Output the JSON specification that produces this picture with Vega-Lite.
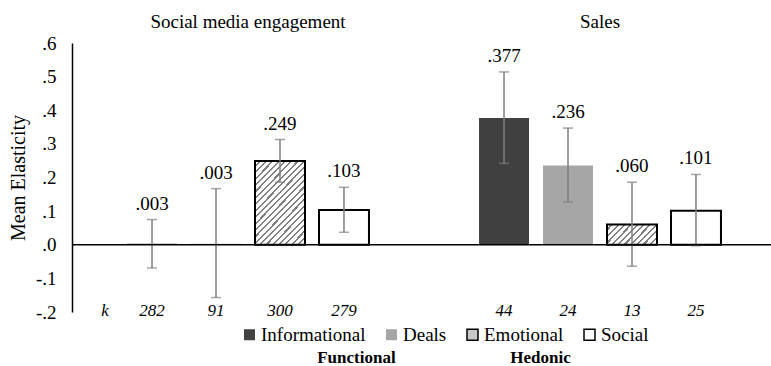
{
  "$schema": "https://vega.github.io/schema/vega-lite/v6.json",
  "width": 699,
  "height": 269,
  "autosize": {"type": "none"},
  "padding": {"left": 72, "top": 43, "right": 0, "bottom": 54},
  "config": {
    "view": {"stroke": null},
    "font": "Liberation Serif",
    "axis": {"labelFont": "Liberation Serif", "titleFont": "Liberation Serif", "labelColor": "#000000", "titleColor": "#000000"},
    "axisX": {"domain": false, "ticks": false, "grid": false, "labelAngle": 0, "labelFontSize": 19, "labelPadding": 12, "labelLimit": 400},
    "axisY": {"grid": false, "ticks": false, "domain": true, "domainColor": "#000000", "domainWidth": 1.5, "labelFontSize": 19, "labelPadding": 16, "titleFontSize": 20, "titleFontWeight": "normal", "titlePadding": 7},
    "legend": {"titleOrient": "bottom", "titleAnchor": "middle", "titleLimit": 1000, "titleFont": "Liberation Serif", "titleFontSize": 17, "titleFontWeight": "bold", "titleColor": "#000000", "titlePadding": 5,
      "symbolType": "square", "symbolSize": 121, "symbolStrokeWidth": 1.5, "symbolOpacity": 1,
      "labelFont": "Liberation Serif", "labelFontSize": 19, "labelColor": "#000000", "labelOffset": 2, "columnPadding": 16, "labelLimit": 300}
  },
  "data": {
    "values": [
      {"group": "Social media engagement", "type": "Informational", "mean": 0.003, "lo": -0.069, "hi": 0.075, "k": "282", "lbl": ".003"},
      {"group": "Social media engagement", "type": "Deals", "mean": 0.003, "lo": -0.157, "hi": 0.167, "k": "91", "lbl": ".003"},
      {"group": "Social media engagement", "type": "Emotional", "mean": 0.249, "lo": 0.186, "hi": 0.313, "k": "300", "lbl": ".249"},
      {"group": "Social media engagement", "type": "Social", "mean": 0.103, "lo": 0.037, "hi": 0.171, "k": "279", "lbl": ".103"},
      {"group": "Sales", "type": "Informational", "mean": 0.377, "lo": 0.242, "hi": 0.514, "k": "44", "lbl": ".377"},
      {"group": "Sales", "type": "Deals", "mean": 0.236, "lo": 0.127, "hi": 0.347, "k": "24", "lbl": ".236"},
      {"group": "Sales", "type": "Emotional", "mean": 0.06, "lo": -0.064, "hi": 0.186, "k": "13", "lbl": ".060"},
      {"group": "Sales", "type": "Social", "mean": 0.101, "lo": -0.003, "hi": 0.209, "k": "25", "lbl": ".101"}
    ]
  },
  "layer": [
    {
      "mark": {"type": "bar", "strokeWidth": 2},
      "encoding": {
        "x": {"field": "group", "type": "nominal", "sort": ["Social media engagement", "Sales"],
          "scale": {"range": [0, 704], "paddingInner": 0, "paddingOuter": 0},
          "axis": {"orient": "top", "title": null}},
        "xOffset": {"field": "type", "type": "nominal",
          "scale": {"domain": ["Informational", "Deals", "Emotional", "Social"], "paddingInner": 0.219, "paddingOuter": 0.86}},
        "y": {"field": "mean", "type": "quantitative",
          "scale": {"domain": [-0.2, 0.6], "nice": false, "zero": false},
          "axis": {"title": "Mean Elasticity", "values": [-0.2, -0.1, 0, 0.1, 0.2, 0.3, 0.4, 0.5, 0.6], "labelExpr": "replace(replace(format(datum.value, '.1f'), '0.', '.'), '\u2212', '-')"}},
        "fill": {
          "condition": [
            {"test": "datum.type === 'Emotional' && datum.group === 'Sales'", "value": {
              "gradient": "linear", "x1": 0, "y1": 0, "x2": 1.207, "y2": 0.473,
              "stops": [
                {"offset": 0, "color": "#ffffff"}, {"offset": 0.0606, "color": "#ffffff"}, {"offset": 0.0606, "color": "#808080"}, {"offset": 0.0909, "color": "#808080"},
                {"offset": 0.0909, "color": "#ffffff"}, {"offset": 0.1515, "color": "#ffffff"}, {"offset": 0.1515, "color": "#808080"}, {"offset": 0.1818, "color": "#808080"},
                {"offset": 0.1818, "color": "#ffffff"}, {"offset": 0.2424, "color": "#ffffff"}, {"offset": 0.2424, "color": "#808080"}, {"offset": 0.2727, "color": "#808080"},
                {"offset": 0.2727, "color": "#ffffff"}, {"offset": 0.3333, "color": "#ffffff"}, {"offset": 0.3333, "color": "#808080"}, {"offset": 0.3636, "color": "#808080"},
                {"offset": 0.3636, "color": "#ffffff"}, {"offset": 0.4242, "color": "#ffffff"}, {"offset": 0.4242, "color": "#808080"}, {"offset": 0.4545, "color": "#808080"},
                {"offset": 0.4545, "color": "#ffffff"}, {"offset": 0.5152, "color": "#ffffff"}, {"offset": 0.5152, "color": "#808080"}, {"offset": 0.5455, "color": "#808080"},
                {"offset": 0.5455, "color": "#ffffff"}, {"offset": 0.6061, "color": "#ffffff"}, {"offset": 0.6061, "color": "#808080"}, {"offset": 0.6364, "color": "#808080"},
                {"offset": 0.6364, "color": "#ffffff"}, {"offset": 0.6970, "color": "#ffffff"}, {"offset": 0.6970, "color": "#808080"}, {"offset": 0.7273, "color": "#808080"},
                {"offset": 0.7273, "color": "#ffffff"}, {"offset": 0.7879, "color": "#ffffff"}, {"offset": 0.7879, "color": "#808080"}, {"offset": 0.8182, "color": "#808080"},
                {"offset": 0.8182, "color": "#ffffff"}, {"offset": 0.8788, "color": "#ffffff"}, {"offset": 0.8788, "color": "#808080"}, {"offset": 0.9091, "color": "#808080"},
                {"offset": 0.9091, "color": "#ffffff"}, {"offset": 0.9697, "color": "#ffffff"}, {"offset": 0.9697, "color": "#808080"}, {"offset": 1, "color": "#808080"}
              ]}},
            {"test": "datum.type === 'Emotional'", "value": {
              "gradient": "linear", "x1": 0, "y1": 0, "x2": 0.716, "y2": 1.174,
              "stops": [
                {"offset": 0, "color": "#ffffff"}, {"offset": 0.0317, "color": "#ffffff"}, {"offset": 0.0317, "color": "#808080"}, {"offset": 0.0476, "color": "#808080"},
                {"offset": 0.0476, "color": "#ffffff"}, {"offset": 0.0794, "color": "#ffffff"}, {"offset": 0.0794, "color": "#808080"}, {"offset": 0.0952, "color": "#808080"},
                {"offset": 0.0952, "color": "#ffffff"}, {"offset": 0.1270, "color": "#ffffff"}, {"offset": 0.1270, "color": "#808080"}, {"offset": 0.1429, "color": "#808080"},
                {"offset": 0.1429, "color": "#ffffff"}, {"offset": 0.1746, "color": "#ffffff"}, {"offset": 0.1746, "color": "#808080"}, {"offset": 0.1905, "color": "#808080"},
                {"offset": 0.1905, "color": "#ffffff"}, {"offset": 0.2222, "color": "#ffffff"}, {"offset": 0.2222, "color": "#808080"}, {"offset": 0.2381, "color": "#808080"},
                {"offset": 0.2381, "color": "#ffffff"}, {"offset": 0.2698, "color": "#ffffff"}, {"offset": 0.2698, "color": "#808080"}, {"offset": 0.2857, "color": "#808080"},
                {"offset": 0.2857, "color": "#ffffff"}, {"offset": 0.3175, "color": "#ffffff"}, {"offset": 0.3175, "color": "#808080"}, {"offset": 0.3333, "color": "#808080"},
                {"offset": 0.3333, "color": "#ffffff"}, {"offset": 0.3651, "color": "#ffffff"}, {"offset": 0.3651, "color": "#808080"}, {"offset": 0.3810, "color": "#808080"},
                {"offset": 0.3810, "color": "#ffffff"}, {"offset": 0.4127, "color": "#ffffff"}, {"offset": 0.4127, "color": "#808080"}, {"offset": 0.4286, "color": "#808080"},
                {"offset": 0.4286, "color": "#ffffff"}, {"offset": 0.4603, "color": "#ffffff"}, {"offset": 0.4603, "color": "#808080"}, {"offset": 0.4762, "color": "#808080"},
                {"offset": 0.4762, "color": "#ffffff"}, {"offset": 0.5079, "color": "#ffffff"}, {"offset": 0.5079, "color": "#808080"}, {"offset": 0.5238, "color": "#808080"},
                {"offset": 0.5238, "color": "#ffffff"}, {"offset": 0.5556, "color": "#ffffff"}, {"offset": 0.5556, "color": "#808080"}, {"offset": 0.5714, "color": "#808080"},
                {"offset": 0.5714, "color": "#ffffff"}, {"offset": 0.6032, "color": "#ffffff"}, {"offset": 0.6032, "color": "#808080"}, {"offset": 0.6190, "color": "#808080"},
                {"offset": 0.6190, "color": "#ffffff"}, {"offset": 0.6508, "color": "#ffffff"}, {"offset": 0.6508, "color": "#808080"}, {"offset": 0.6667, "color": "#808080"},
                {"offset": 0.6667, "color": "#ffffff"}, {"offset": 0.6984, "color": "#ffffff"}, {"offset": 0.6984, "color": "#808080"}, {"offset": 0.7143, "color": "#808080"},
                {"offset": 0.7143, "color": "#ffffff"}, {"offset": 0.7460, "color": "#ffffff"}, {"offset": 0.7460, "color": "#808080"}, {"offset": 0.7619, "color": "#808080"},
                {"offset": 0.7619, "color": "#ffffff"}, {"offset": 0.7937, "color": "#ffffff"}, {"offset": 0.7937, "color": "#808080"}, {"offset": 0.8095, "color": "#808080"},
                {"offset": 0.8095, "color": "#ffffff"}, {"offset": 0.8413, "color": "#ffffff"}, {"offset": 0.8413, "color": "#808080"}, {"offset": 0.8571, "color": "#808080"},
                {"offset": 0.8571, "color": "#ffffff"}, {"offset": 0.8889, "color": "#ffffff"}, {"offset": 0.8889, "color": "#808080"}, {"offset": 0.9048, "color": "#808080"},
                {"offset": 0.9048, "color": "#ffffff"}, {"offset": 0.9365, "color": "#ffffff"}, {"offset": 0.9365, "color": "#808080"}, {"offset": 0.9524, "color": "#808080"},
                {"offset": 0.9524, "color": "#ffffff"}, {"offset": 0.9841, "color": "#ffffff"}, {"offset": 0.9841, "color": "#808080"}, {"offset": 1, "color": "#808080"}
              ]}}
          ],
          "field": "type", "type": "nominal",
          "scale": {"domain": ["Informational", "Deals", "Emotional", "Social"], "range": ["#404040", "#a6a6a6", "#c8c8c8", "#ffffff"]},
          "legend": {"orient": "none", "legendX": 168, "legendY": 282, "direction": "horizontal",
            "title": "\u00a0\u00a0\u00a0\u00a0\u00a0\u00a0\u00a0\u00a0\u00a0\u00a0\u00a0Functional\u00a0\u00a0\u00a0\u00a0\u00a0\u00a0\u00a0\u00a0\u00a0\u00a0\u00a0\u00a0\u00a0\u00a0\u00a0\u00a0\u00a0\u00a0\u00a0\u00a0\u00a0\u00a0\u00a0\u00a0\u00a0\u00a0\u00a0Hedonic"}},
        "stroke": {"field": "type", "type": "nominal",
          "scale": {"domain": ["Informational", "Deals", "Emotional", "Social"], "range": ["transparent", "transparent", "#000000", "#000000"]},
          "legend": {"orient": "none", "legendX": 168, "legendY": 282, "direction": "horizontal",
            "title": "\u00a0\u00a0\u00a0\u00a0\u00a0\u00a0\u00a0\u00a0\u00a0\u00a0\u00a0Functional\u00a0\u00a0\u00a0\u00a0\u00a0\u00a0\u00a0\u00a0\u00a0\u00a0\u00a0\u00a0\u00a0\u00a0\u00a0\u00a0\u00a0\u00a0\u00a0\u00a0\u00a0\u00a0\u00a0\u00a0\u00a0\u00a0\u00a0Hedonic"}}
      }
    },
    {
      "mark": {"type": "rule", "color": "#7f7f7f", "strokeWidth": 1.5},
      "encoding": {
        "x": {"field": "group", "type": "nominal", "sort": ["Social media engagement", "Sales"], "axis": {"orient": "top", "title": null}},
        "xOffset": {"field": "type", "type": "nominal", "scale": {"domain": ["Informational", "Deals", "Emotional", "Social"]}},
        "y": {"field": "lo", "type": "quantitative", "scale": {"domain": [-0.2, 0.6], "nice": false, "zero": false},
          "axis": {"title": "Mean Elasticity", "values": [-0.2, -0.1, 0, 0.1, 0.2, 0.3, 0.4, 0.5, 0.6], "labelExpr": "replace(replace(format(datum.value, '.1f'), '0.', '.'), '\u2212', '-')"}},
        "y2": {"field": "hi"}
      }
    },
    {
      "mark": {"type": "tick", "color": "#7f7f7f", "orient": "horizontal", "size": 10, "thickness": 1.5},
      "encoding": {
        "x": {"field": "group", "type": "nominal", "sort": ["Social media engagement", "Sales"], "axis": {"orient": "top", "title": null}},
        "xOffset": {"field": "type", "type": "nominal", "scale": {"domain": ["Informational", "Deals", "Emotional", "Social"]}},
        "y": {"field": "lo", "type": "quantitative", "scale": {"domain": [-0.2, 0.6], "nice": false, "zero": false},
          "axis": {"title": "Mean Elasticity", "values": [-0.2, -0.1, 0, 0.1, 0.2, 0.3, 0.4, 0.5, 0.6], "labelExpr": "replace(replace(format(datum.value, '.1f'), '0.', '.'), '\u2212', '-')"}}
      }
    },
    {
      "mark": {"type": "tick", "color": "#7f7f7f", "orient": "horizontal", "size": 10, "thickness": 1.5},
      "encoding": {
        "x": {"field": "group", "type": "nominal", "sort": ["Social media engagement", "Sales"], "axis": {"orient": "top", "title": null}},
        "xOffset": {"field": "type", "type": "nominal", "scale": {"domain": ["Informational", "Deals", "Emotional", "Social"]}},
        "y": {"field": "hi", "type": "quantitative", "scale": {"domain": [-0.2, 0.6], "nice": false, "zero": false},
          "axis": {"title": "Mean Elasticity", "values": [-0.2, -0.1, 0, 0.1, 0.2, 0.3, 0.4, 0.5, 0.6], "labelExpr": "replace(replace(format(datum.value, '.1f'), '0.', '.'), '\u2212', '-')"}}
      }
    },
    {
      "mark": {"type": "text", "font": "Liberation Serif", "fontSize": 19, "color": "#000000", "baseline": "alphabetic", "dy": -10},
      "encoding": {
        "x": {"field": "group", "type": "nominal", "sort": ["Social media engagement", "Sales"], "axis": {"orient": "top", "title": null}},
        "xOffset": {"field": "type", "type": "nominal", "scale": {"domain": ["Informational", "Deals", "Emotional", "Social"]}},
        "y": {"field": "hi", "type": "quantitative", "scale": {"domain": [-0.2, 0.6], "nice": false, "zero": false},
          "axis": {"title": "Mean Elasticity", "values": [-0.2, -0.1, 0, 0.1, 0.2, 0.3, 0.4, 0.5, 0.6], "labelExpr": "replace(replace(format(datum.value, '.1f'), '0.', '.'), '\u2212', '-')"}},
        "text": {"field": "lbl"}
      }
    },
    {
      "mark": {"type": "text", "font": "Liberation Serif", "fontSize": 17, "fontStyle": "italic", "color": "#000000", "baseline": "middle", "dy": -1},
      "encoding": {
        "x": {"field": "group", "type": "nominal", "sort": ["Social media engagement", "Sales"], "axis": {"orient": "top", "title": null}},
        "xOffset": {"field": "type", "type": "nominal", "scale": {"domain": ["Informational", "Deals", "Emotional", "Social"]}},
        "y": {"datum": -0.2, "type": "quantitative", "scale": {"domain": [-0.2, 0.6], "nice": false, "zero": false},
          "axis": {"title": "Mean Elasticity", "values": [-0.2, -0.1, 0, 0.1, 0.2, 0.3, 0.4, 0.5, 0.6], "labelExpr": "replace(replace(format(datum.value, '.1f'), '0.', '.'), '\u2212', '-')"}},
        "text": {"field": "k"}
      }
    },
    {
      "data": {"values": [{"group": "Social media engagement", "t": "k"}]},
      "mark": {"type": "text", "font": "Liberation Serif", "fontSize": 17, "fontStyle": "italic", "color": "#000000", "baseline": "middle", "dy": -1, "dx": -143},
      "encoding": {
        "x": {"field": "group", "type": "nominal", "sort": ["Social media engagement", "Sales"], "axis": {"orient": "top", "title": null}},
        "y": {"datum": -0.2, "type": "quantitative", "scale": {"domain": [-0.2, 0.6], "nice": false, "zero": false},
          "axis": {"title": "Mean Elasticity", "values": [-0.2, -0.1, 0, 0.1, 0.2, 0.3, 0.4, 0.5, 0.6], "labelExpr": "replace(replace(format(datum.value, '.1f'), '0.', '.'), '\u2212', '-')"}},
        "text": {"field": "t"}
      }
    },
    {
      "data": {"values": [{"z": 0}]},
      "mark": {"type": "rule", "color": "#000000", "strokeWidth": 1.5},
      "encoding": {
        "y": {"field": "z", "type": "quantitative", "scale": {"domain": [-0.2, 0.6], "nice": false, "zero": false},
          "axis": {"title": "Mean Elasticity", "values": [-0.2, -0.1, 0, 0.1, 0.2, 0.3, 0.4, 0.5, 0.6], "labelExpr": "replace(replace(format(datum.value, '.1f'), '0.', '.'), '\u2212', '-')"}}
      }
    }
  ]
}
